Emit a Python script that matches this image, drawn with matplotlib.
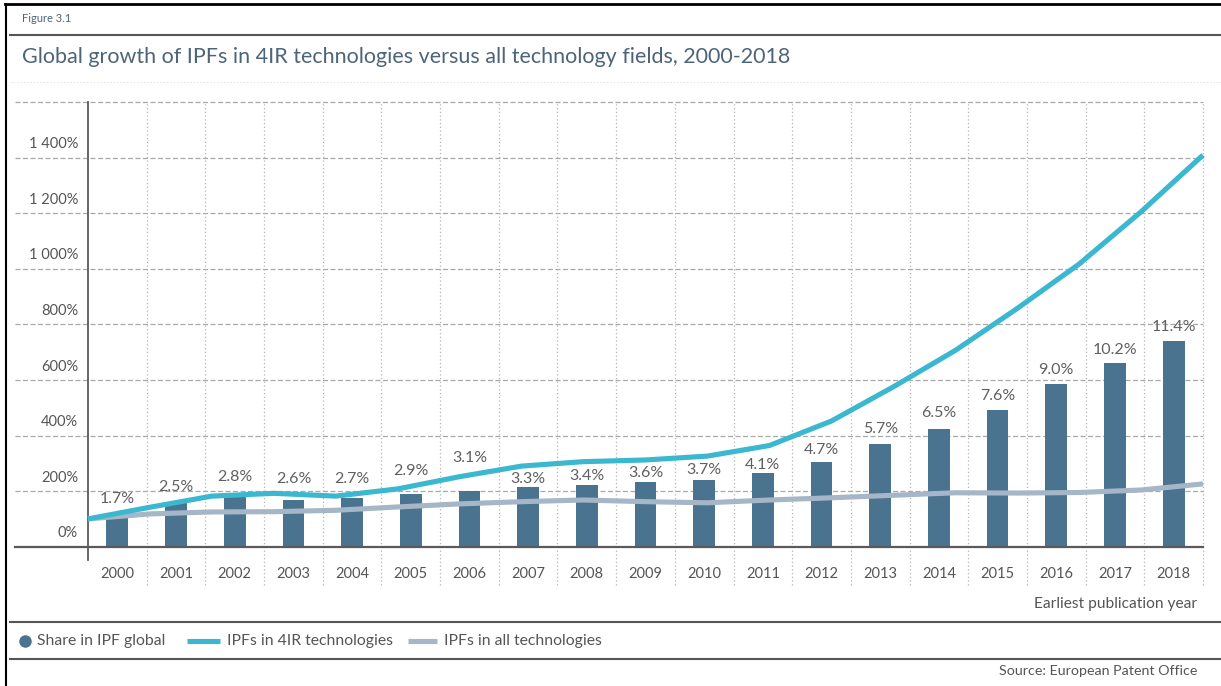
import matplotlib
matplotlib.use('Agg')
import matplotlib.pyplot as plt
from matplotlib.lines import Line2D

# ---------------- data ----------------
years = [str(y) for y in range(2000, 2019)]
share_ipf = [1.7, 2.5, 2.8, 2.6, 2.7, 2.9, 3.1, 3.3, 3.4, 3.6, 3.7, 4.1, 4.7, 5.7, 6.5, 7.6, 9.0, 10.2, 11.4]
ipf_4ir = [100, 142, 182, 192, 182, 208, 252, 290, 306, 312, 326, 364, 452, 575, 706, 857, 1017, 1205, 1409]
ipf_all = [100, 118, 125, 126, 131, 143, 154, 162, 168, 162, 158, 168, 176, 185, 194, 193, 195, 204, 226]
y_ticks = [0, 200, 400, 600, 800, 1000, 1200, 1400]
y_tick_labels = ['0%', '200%', '400%', '600%', '800%', '1 000%', '1 200%', '1 400%']

# label offsets above bar tops (pixels) - styling only
label_offsets_px = [17, 15, 19, 21, 19, 23, 33, 8, 9, 9, 10, 8, 12, 15, 16, 14, 14, 13, 14]

# ---------------- style ----------------
plt.rcParams['font.family'] = ['Liberation Sans Narrow', 'Lato', 'DejaVu Sans']
BAR = '#4a7390'
CYAN = '#3bb8cf'
GREY_LINE = '#a5b7c7'
TXT = '#555555'
TITLE = '#4e6479'
GRID = '#a8a8a8'

W, H = 1221, 686
fig = plt.figure(figsize=(W / 100, H / 100), dpi=100)
fig.patch.set_facecolor('white')


def fx(px):
    return px / W


def fy(py):
    return 1 - py / H


PT = 0.72  # points per pixel at 100 dpi

x0, x1 = 88, 1203
yb, yt = 546.7, 102
ax = fig.add_axes([fx(x0), fy(yb), fx(x1) - fx(x0), fy(yt) - fy(yb)])
ax.set_xlim(-0.5, len(years) - 0.5)
ax.set_ylim(0, 1600)
ax.axis('off')

left_ext = (15 - x0) / (x1 - x0)
below_ext = -(585 - yb) / (yb - yt)
spine_ext = -(560 - yb) / (yb - yt)

# horizontal dashed gridlines (including top line)
for v in y_ticks[1:] + [1600]:
    ax.plot([left_ext, 1], [v, v], transform=ax.get_yaxis_transform(), color=GRID,
            lw=0.9, ls=(0, (4, 2)), clip_on=False, zorder=0)

# vertical dotted gridlines between categories
for i in range(len(years)):
    ax.plot([i + 0.5, i + 0.5], [below_ext, 1], transform=ax.get_xaxis_transform(),
            color='#b4b4b4', lw=0.9, ls=(0, (1, 2)), clip_on=False, zorder=0)

# y axis line
ax.plot([-0.5, -0.5], [spine_ext, 1], transform=ax.get_xaxis_transform(),
        color='#5a5a5a', lw=1.3, clip_on=False, zorder=1)

# y tick labels (above their gridlines)
for v, lab in zip(y_ticks, y_tick_labels):
    ax.annotate(lab, xy=(-0.009, v), xycoords=ax.get_yaxis_transform(),
                xytext=(0, 13.4 * PT), textcoords='offset points',
                ha='right', va='center', fontsize=10.5, color=TXT)

# year labels
for i, yr in enumerate(years):
    ax.annotate(yr, xy=(i, 0), xycoords='data', xytext=(0, -27.3 * PT),
                textcoords='offset points', ha='center', va='center',
                fontsize=10.5, color=TXT, annotation_clip=False)

# bars (share in IPF global)
axb = ax.twinx()
axb.set_ylim(0, 24.64)
axb.axis('off')
axb.bar(range(len(years)), share_ipf, width=0.37, color=BAR, zorder=2)

# lines (index growth) spanning full width
axl = ax.twiny()
axl.set_xlim(0, len(years) - 1)
axl.set_ylim(0, 1600)
axl.axis('off')
axl.plot(range(len(years)), ipf_all, color=GREY_LINE, lw=3.7, solid_capstyle='butt',
         solid_joinstyle='round', clip_on=False)
axl.plot(range(len(years)), ipf_4ir, color=CYAN, lw=3.7, solid_capstyle='butt',
         solid_joinstyle='round', clip_on=False)

# x axis base line (drawn on top)
axl.plot([left_ext, 1], [0, 0], transform=axl.get_yaxis_transform(), color='#5a5a5a',
         lw=1.6, clip_on=False)

# bar value labels
for i, (s, off) in enumerate(zip(share_ipf, label_offsets_px)):
    axl.annotate(f'{s:.1f}%', xy=(i, s), xycoords=axb.transData,
                 xytext=(0, off * PT), textcoords='offset points',
                 ha='center', va='center', fontsize=11.5, color='#606060',
                 annotation_clip=False)

# ---------------- frame / header / footer ----------------
fig.add_artist(Line2D([fx(5), 1], [fy(4), fy(4)], color='black', lw=2))
fig.add_artist(Line2D([fx(6), fx(6)], [fy(4), 0], color='black', lw=1.5))

fig.text(fx(22), fy(19), 'Figure 3.1', fontsize=8, color=TITLE, ha='left', va='center')
fig.add_artist(Line2D([fx(10), 1], [fy(35), fy(35)], color='#555555', lw=1.5))
fig.text(fx(22), fy(57), 'Global growth of IPFs in 4IR technologies versus all technology fields, 2000-2018',
         fontsize=15.5, color=TITLE, ha='left', va='center')
fig.add_artist(Line2D([fx(10), 1], [fy(82), fy(82)], color='#dddddd', lw=0.8, ls=(0, (1, 2))))

fig.text(fx(1197), fy(604), 'Earliest publication year', fontsize=11.2, color=TXT,
         ha='right', va='center')
fig.add_artist(Line2D([fx(10), 1], [fy(622), fy(622)], color='#555555', lw=1.5))

# legend
ly = fy(641)
fig.add_artist(Line2D([fx(25)], [ly], marker='o', ms=8, color=BAR, lw=0))
fig.text(fx(37), ly, 'Share in IPF global', fontsize=11.3, color=TXT, ha='left', va='center')
fig.add_artist(Line2D([fx(187), fx(220)], [ly, ly], color=CYAN, lw=3.7, solid_capstyle='butt'))
fig.text(fx(227), ly, 'IPFs in 4IR technologies', fontsize=11.3, color=TXT, ha='left', va='center')
fig.add_artist(Line2D([fx(408), fx(437)], [ly, ly], color=GREY_LINE, lw=3.7, solid_capstyle='butt'))
fig.text(fx(444), ly, 'IPFs in all technologies', fontsize=11.3, color=TXT, ha='left', va='center')

fig.add_artist(Line2D([fx(10), 1], [fy(659), fy(659)], color='#555555', lw=1.5))
fig.text(fx(1197), fy(671), 'Source: European Patent Office', fontsize=10.3, color=TXT,
         ha='right', va='center')

fig.savefig('out.png', dpi=100)
